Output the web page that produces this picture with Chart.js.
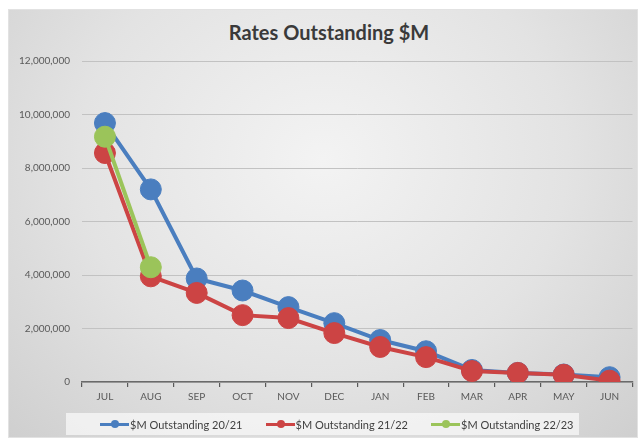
<!DOCTYPE html>
<html lang="en">
<head>
  <meta charset="UTF-8" />
  <title>Rates Outstanding $M</title>
  <script src="https://cdn.jsdelivr.net/npm/chart.js"></script>
  <style>
    * { margin: 0; padding: 0; box-sizing: border-box; }
    body { width: 644px; height: 441px; background: #fff; position: relative; overflow: hidden; font-family: 'Lato', sans-serif; }
    .panel {
      position: absolute; left: 8px; top: 9px; width: 630px; height: 429px;
      background: radial-gradient(ellipse at 50% 35%, #f3f3f3 0%, #e3e3e3 55%, #cfcfcf 100%);
      border: 1px solid #e2e2e2;
    }
    .title {
      position: absolute; left: 0; width: 658px; top: 20px; text-align: center;
      font-size: 20px; font-weight: 700; color: #3a3a3a;
    }
    canvas { position: absolute; left: 0; top: 0; }
    .legend {
      position: absolute; left: 66px; top: 413px; width: 513px; height: 22px;
      background: rgba(248, 248, 248, 0.75);
      display: flex; align-items: center; padding-left: 34px; gap: 23px;
      font-size: 11px; color: #404040;
    }
    .item { display: flex; align-items: center; }
    .swatch { position: relative; width: 29px; height: 8px; margin-right: 1px; }
    .swatch::before { content: ''; position: absolute; left: 0; right: 0; top: 2.5px; height: 3px; background: var(--c); }
    .swatch::after { content: ''; position: absolute; left: 11px; top: 0; width: 8px; height: 8px; border-radius: 50%; background: var(--c); }
  </style>
</head>
<body>
  <div class="panel"></div>
  <div class="title">Rates Outstanding $M</div>
  <canvas id="ratesChart" width="644" height="441"></canvas>
  <div class="legend" id="legend"></div>

  <script>
    // values
    const months = ['JUL', 'AUG', 'SEP', 'OCT', 'NOV', 'DEC', 'JAN', 'FEB', 'MAR', 'APR', 'MAY', 'JUN'];
    const out2021 = [9680000, 7200000, 3870000, 3420000, 2800000, 2200000, 1570000, 1150000, 450000, 340000, 280000, 180000];
    const out2122 = [8560000, 3950000, 3330000, 2500000, 2390000, 1830000, 1310000, 930000, 410000, 340000, 270000, 50000];
    const out2223 = [9170000, 4290000];
    const seriesNames = ['$M Outstanding 20/21', '$M Outstanding 21/22', '$M Outstanding 22/23'];
    const seriesColors = ['#4a7ebf', '#cc4444', '#9bc45a'];

    function lineSet(i, data, order) {
      return {
        label: seriesNames[i],
        data: data,
        borderColor: seriesColors[i],
        backgroundColor: seriesColors[i],
        pointBackgroundColor: seriesColors[i],
        pointBorderColor: seriesColors[i],
        borderWidth: 4,
        pointRadius: 10.5,
        pointBorderWidth: 1,
        tension: 0,
        order: order
      };
    }

    const ctx = document.getElementById('ratesChart').getContext('2d');
    new Chart(ctx, {
      type: 'line',
      data: {
        labels: months,
        datasets: [
          lineSet(0, out2021, 2),
          lineSet(1, out2122, 1),
          lineSet(2, out2223, 0)
        ]
      },
      options: {
        responsive: false,
        animation: false,
        layout: { padding: { left: 0, right: 9, top: 61, bottom: 34 } },
        plugins: {
          legend: { display: false },
          title: { display: false },
          tooltip: { enabled: false }
        },
        scales: {
          x: {
            offset: true,
            afterFit: s => { s.height = 25; },
            grid: { display: true, offset: true, drawOnChartArea: false, drawTicks: true, tickLength: 5, color: '#595959', lineWidth: 1.2 },
            border: { display: true, color: '#6a6a6a', width: 1.5 },
            ticks: { color: '#595959', font: { family: 'Lato', size: 10 }, padding: 4 }
          },
          y: {
            min: 0,
            max: 12000000,
            afterFit: s => { s.width = 82; },
            grid: { color: '#c2c2c2', lineWidth: 1, drawTicks: false },
            border: { display: false },
            ticks: {
              stepSize: 2000000,
              padding: 12,
              color: '#595959',
              font: { family: 'Lato', size: 10 },
              callback: v => v.toLocaleString('en-US')
            }
          }
        }
      }
    });

    // legend below the plot
    const legend = document.getElementById('legend');
    seriesNames.forEach((name, i) => {
      const item = document.createElement('div');
      item.className = 'item';
      item.innerHTML = '<span class="swatch" style="--c:' + seriesColors[i] + '"></span><span>' + name + '</span>';
      legend.appendChild(item);
    });
  </script>
</body>
</html>
